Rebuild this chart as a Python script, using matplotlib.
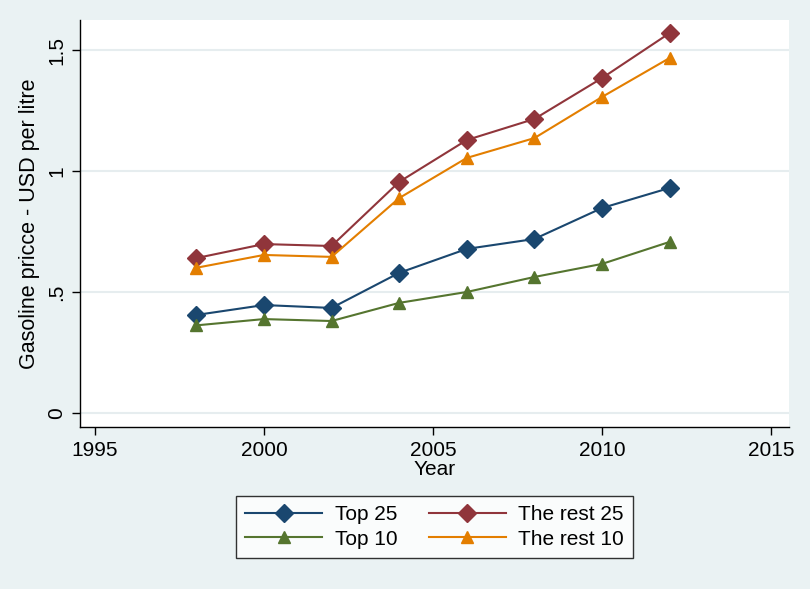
import matplotlib
matplotlib.use("Agg")
import matplotlib.pyplot as plt

years = [1998, 2000, 2002, 2004, 2006, 2008, 2010, 2012]
top25 = [0.405, 0.446, 0.434, 0.579, 0.678, 0.719, 0.847, 0.930]
rest25 = [0.640, 0.698, 0.690, 0.955, 1.128, 1.215, 1.384, 1.570]
top10 = [0.362, 0.388, 0.380, 0.455, 0.500, 0.562, 0.616, 0.707]
rest10 = [0.600, 0.653, 0.645, 0.888, 1.054, 1.136, 1.306, 1.467]

xticks = [1995, 2000, 2005, 2010, 2015]
yticks = [0, 0.5, 1, 1.5]
ytick_labels = ["0", ".5", "1", "1.5"]

plt.rcParams['font.family'] = ['Liberation Sans', 'DejaVu Sans']

bg = '#EAF2F3'
fig = plt.figure(figsize=(8.1, 5.89), dpi=100, facecolor=bg)
W, H = 810, 589
ax = fig.add_axes([80 / W, 1 - 427 / H, (789 - 80) / W, (427 - 20) / H])
ax.set_facecolor('white')

navy = '#1A476F'
maroon = '#90353B'
green = '#55752F'
orange = '#E37E00'

l1, = ax.plot(years, top25, color=navy, marker='D', markersize=9, lw=1.5, label='Top 25')
l3, = ax.plot(years, rest25, color=maroon, marker='D', markersize=9, lw=1.5, label='The rest 25')
l2, = ax.plot(years, top10, color=green, marker='^', markersize=9, lw=1.5, label='Top 10')
l4, = ax.plot(years, rest10, color=orange, marker='^', markersize=9, lw=1.5, label='The rest 10')

ax.set_xlim(1994.56, 2015.53)
ax.set_ylim(-0.058, 1.624)
ax.set_xticks(xticks)
ax.set_yticks(yticks)
ax.set_yticklabels(ytick_labels, rotation=90, va='center')
ax.tick_params(axis='both', labelsize=15, length=6, width=1, color='black')
ax.tick_params(axis='y', pad=4)
ax.tick_params(axis='x', pad=4)

for s in ['top', 'right']:
    ax.spines[s].set_visible(False)
for s in ['left', 'bottom']:
    ax.spines[s].set_color('black')
    ax.spines[s].set_linewidth(1)

ax.yaxis.grid(True, color='#E6EDEF', lw=1.5)
ax.set_axisbelow(True)

ax.set_xlabel('Year', fontsize=15, labelpad=0)
ax.set_ylabel('Gasoline pricce - USD per litre', fontsize=15.5, labelpad=5)

leg = fig.legend(handles=[l1, l2, l3, l4], ncol=2, loc='center',
                 bbox_to_anchor=(434.5 / W, 1 - 527 / H), fontsize=15,
                 frameon=True, fancybox=False, edgecolor='black',
                 handlelength=3.7, columnspacing=1.5, borderpad=0.45,
                 labelspacing=0.25, handletextpad=0.6, facecolor='white')
leg.get_frame().set_linewidth(1)
for h in leg.legend_handles:
    h.set_markersize(9)

fig.savefig('out.png', dpi=100, facecolor=bg)
